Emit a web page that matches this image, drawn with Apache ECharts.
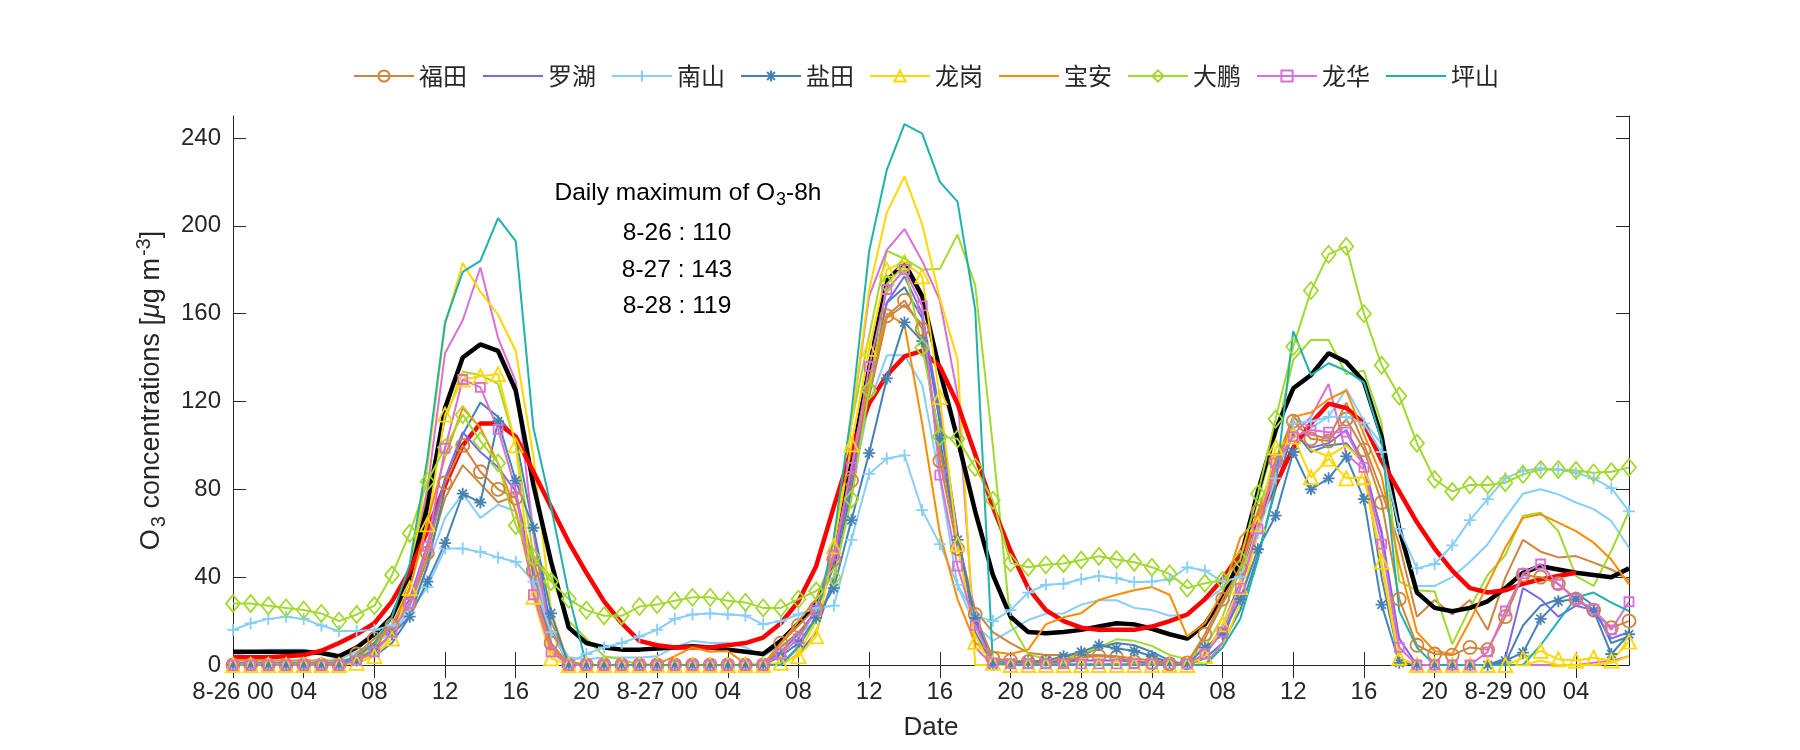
<!DOCTYPE html>
<html>
<head>
<meta charset="utf-8">
<script src="https://cdn.jsdelivr.net/npm/echarts@6/dist/echarts.min.js"></script>
<style>html,body{margin:0;padding:0;background:#fff;}#c{width:1800px;height:750px;}</style>
</head>
<body>
<div id="c"></div>
<script>
// Hour categories: 8-26 00 .. 8-29 07
const categories = [
'8-26 00','01','02','03','04','05','06','07','08','09','10','11','12','13','14','15','16','17','18','19','20','21','22','23',
'8-27 00','01','02','03','04','05','06','07','08','09','10','11','12','13','14','15','16','17','18','19','20','21','22','23',
'8-28 00','01','02','03','04','05','06','07','08','09','10','11','12','13','14','15','16','17','18','19','20','21','22','23',
'8-29 00','01','02','03','04','05','06','07'];

const legendNames = ['福田','罗湖','南山','盐田','龙岗','宝安','大鹏','龙华','坪山'];
const unmarkedNames = ['罗湖','宝安','坪山'];

// Marked (first) station of each district
const futian = [0,0,0,0,0,0,0,5,12,18, 28,51,83,100,88,80,76,43,10,0, 0,0,0,0,0,0,0,0,0,0, 0,10,18,26,48,84,125,159,166,153,
  93,53,23,3,2,1.5,1.5,2,3.5,4, 3.5,1.5,1,0.5,1,14,30,44,70,93, 111,103,102,112,98,74,30,9,5,4.5, 8,7,22,41,40,37,30,25,17,20];
const luohu = [0,0,0,0,0,0,0,3,10,18, 30,55,85,106,97,90,79,40,8,0, 0,0,0,0,0,0,0,0,0,0, 0,6,14,25,45,85,130,165,177,160,
  115,60,20,2,1,1,1,1.5,2,2, 2,1.5,1,0.5,0.5,5,18,38,65,90, 105,99,101,107,92,60,12,0,0,0, 0,0,3,35,30,22,27,25,12,15];
const nanshan = [16,19,21,22,21,18,15.5,15.5,16,18, 24,35.5,53,53,51.5,49,47,38,15,1, 5,8,10,13,16,21,23,23.5,23,22.5, 18.5,20,23,26,27,57,87,94,95.5,70.5,
  55,36.5,22.5,20,25,33,36.5,37,39,40.5, 39.5,37.7,38,39,44.5,43,38,40,60,85, 110,111,113,113,110,97,62,44,46,54.5, 66,75.5,85,88.5,89.5,89,87.5,85,80.5,70];
const yantian = [0,0,0,0,0,0,0,2,7,14, 22,38,55.5,78,74,111,84,62.5,23.5,0, 0,0,0,0,0,0,0,0,0,0, 0,4,10,21.5,35,66,96.5,130.5,156,147.5,
  103,57,21.5,0,1,1.5,2,4,6,9, 7.5,6.5,4,1,0.5,8,14,30,52.7,68, 97,80,85,95,75.5,27.5,1,0,0,0, 0,0,2,5.6,21,29,30,24.6,5,14];
const longgang = [0,0,0,0,0,0,0,1,4,12, 35,64,114,130,131.5,132.5,100,31,3,0, 0,0,0,0,0,0,0,0,0,0, 0,1,4,13,54,100.5,144,180,183.5,177,
  122,55,10.5,1,0,0,0,0,0,0, 0,0,0,0,0,4,18.5,35.5,64,99, 104,85.5,94,85,85.5,47,3.3,0,0,0, 0,0,0,3,6.4,2.6,2,3.3,2,10.6];
const baoan = [2,2,2,2,2,2,2,3,10,18, 35,65,95,117,108,92,70,35,8,0, 0,0,0,0,0.3,4,8,6,6.4,0.5, 0,10,20,30,50,90,130,160,155,110,
  60,30,10,6,5,7,18.5,21.7,23.6,29.6, 32,34,35.5,32,13,19,33,58,67,88, 113,115,121,125,105,86,46,15,6.4,5, 20,36.7,53.4,67,68.6,64.8,61,55.7,48,36.7];
const dapeng = [28,28,27,26,25,23.5,20,23,27,41, 60,83.5,99,114,102,92,63.5,49,38,30, 25,22.4,22.4,26.6,27.5,29.3,30.8,30.8,29.3,28.5, 26,26,30,33.7,40,75.5,125,173.5,182,144.5,
  104,103,90,75,46.5,44.5,45.6,46.2,47.8,49.5, 48,46.8,44.5,41.5,35,37.2,38.5,48,78,112, 145,170.5,187,190.6,160,136.5,122.5,101,84.5,79, 82,82,83,86.8,89,89,88.6,87.5,88,90];
const longhua = [0,0,0,0,0,0,0,2,6,15, 28,54,98.7,130,126.4,107.3,80,32,6,0, 0,0,0,0,0,0,0,0,0,0, 0,5,12,25,50,90,136,171,180,163.5,
  86.5,45,18,1,0.5,0.5,0.5,0.5,0.5,0.5, 0.5,0.5,0.5,0.5,0.5,5,15,35,62,92, 104,107,106,106,90,55,8,0,0,0, 0,6,24.6,41.6,46,36.7,30,25.3,16,28.8];
const pingshan = [1,1,1,1,1,1,1,4,10,22, 46,94,156,179,184,203.5,193,108,72,32, 0,0,0,0,0,0,0,0,0,0, 0,0,8.5,21.5,58,115,188.5,225.5,246.3,242,
  220,211,162,1,0,0,0,0,0,0, 0,0,0,0,0,0,8,21,48,82, 152,132,137.4,134,128.7,102,24.6,8,0,0, 0,0,0,0,9,20,30.7,33,28.4,24.6];

// Other stations (plain lines)
const longgang2 = [0,0,0,0,0,0,0,1,5,15, 40,90,155,183,170,159.5,143,95,25,0, 0,0,0,0,0,0,0,0,0,0, 0,0,5,20,55,110,171,206,222.5,200.7,
  167,139,0,0,0,0,0,0,0,0, 0,0,0,0,0,0,8,28,60,95, 108,98,95,100,92,45,2,0,0,0, 0,0,0,0,2,0,0,0,1,4];
const longhua2 = [0,0,0,0,0,0,0,2,5,15, 35,80,142,157,181,149,129,60,10,0, 0,0,0,0,0,0,0,0,0,0, 0,0,8,22,55,110,168,189,198.5,184,
  166,123,8,0,0,0,0,0,0,0, 0,0,0,0,0,0,10,35,60,88, 105,113,128,96,89,61,3,0,0,0, 0,0,0,0,0,0,0,1,2,4];
const dapeng2 = [0,0,0,0,0,0,0,2,8,22, 45,80,112,133.5,132,128,100,50,40,20, 12,4,2.6,0,0,0,0,0,0,0, 0,0,8,22,55,110,150,188.6,185,180,
  180.4,196,173,100,19,5,2.6,2.6,5,8, 11.7,11,8.7,4.6,2.6,8,22,45,75,104, 139,148,148,132.5,134,110,38,34,33.5,9.5, 26,41,50,68,69.3,61,40.5,36,52,70];
const yantian2 = [0,0,0,0,0,0,0,1,4,10, 22,45,80,105,119.5,113,103.5,62,16,0, 0,0,0,0,0,0,0,0,0,0, 0,0,5,15,40,80,130,165,172,158,
  110,60,15,0,0,0,0,0,4,8, 10,9,6,2,0,3,10,25,50,80, 107,97,100,101,91.5,40,2,0,0,0, 0,0,1,18,27,30,33,27,10,13];
const futian2 = [0,0,0,0,0,0,0,4,10,17, 27,48,76,91,82.5,74,77,48,19.6,1.6, 0,0,0,0,0,0,0,0,0,0, 0,8,15,24,45,82,122,158,164,155,
  98,57,25,15,10,5.6,4.6,4.6,4.6,4.5, 4,3,2,1,1,12,28,42,68,92, 113,105,103,119.5,100.6,79,55,22,29.6,23, 29.6,16,39.8,57,51.6,49,49.6,46.6,43.5,38.5];
const nanshan2 = [4,6,7,7,7,5,2.5,6,10,15, 24,45,67,78,67,73,70,45,16,3.5, 2.6,3.4,3.4,3.4,4,8,11,10,10,8, 4,9,14,20,38,80,119,141,141,127.5,
  85,36,18,11,15.6,20.5,23.3,23.5,27.5,29.5, 29.5,26,25,22.4,23,29,35,45,68,92, 113,108,113,125.7,111,100.6,60,36,36,40, 47,55,67,78,80,77.7,74,71,65.6,53.4];

// City mean (black) and 8-h running mean (red)
const cityMean = [6,6,6,6,6,5.5,4,8,14,22, 40,72,117,140,146,143,125,82,47,17, 10,8,7,7,7.5,8,8.5,8,7,6, 5,11,19,28,47,93,135,175,183,168,
  134,103,70,41,22,15,14.5,15,16,17.5, 19,18.5,16.5,14,12,18.5,31,48,79,107, 126,132,142,138,129,104,62,33,26,24.5, 26,29,35,42,45,43.5,42,41,40,44];
const mean8h = [3.5,3.5,3.5,4,4.5,6.5,10,14,19,29, 43,61,82,100,110,110,104,88,72,56, 42,29,19,11,9,8,8,8,9,10, 12.5,19,29,45,72,98,119,132,140.5,143,
  136,119,96,72,52,35,25,20,17,16, 16,16,17.5,20,23,30,39,51,66,82, 99,110,119,117,110,93,79,65,53,43, 35,33,34,37,39,40.5,42,null,null,null];

const COL = {
  futian:'#CD853F', luohu:'#7B68EE', nanshan:'#87CEFA', yantian:'#4682B4', longgang:'#FFD700',
  baoan:'#FF8C00', dapeng:'#A2D92E', longhua:'#DA70D6', pingshan:'#20B2AA'
};
const FONT = "'Liberation Sans', 'Noto Sans CJK SC', sans-serif";
const TXT = '#262626';

function plain(name, data, color, width) {
  return {type:'line', name, data, symbol:'none', showSymbol:false,
    lineStyle:{color, width}, itemStyle:{color}, emphasis:{disabled:true}, silent:true, animation:false};
}
function marked(name, data, color, symbol, size) {
  return {type:'line', name, data, symbol, symbolSize:size, showSymbol:true, showAllSymbol:true,
    lineStyle:{color, width:2}, itemStyle:{color:'rgba(255,255,255,0)', borderColor:color, borderWidth:1.8},
    emphasis:{disabled:true}, silent:true, animation:false};
}
const PLUS = 'path://M5,0L5,10M0,5L10,5';
const STAR = 'path://M5,0L5,10M0,5L10,5M1.5,1.5L8.5,8.5M1.5,8.5L8.5,1.5';

const series = [
  plain('南山站2', nanshan2, COL.nanshan, 2),
  plain('福田站2', futian2, COL.futian, 2),
  plain('盐田站2', yantian2, COL.yantian, 2),
  plain('大鹏站2', dapeng2, COL.dapeng, 2),
  plain('龙华站2', longhua2, COL.longhua, 2),
  plain('龙岗站2', longgang2, COL.longgang, 2),
  plain('均值', cityMean, '#000000', 4.5),
  plain('O3-8h', mean8h, '#FF0000', 4.5),
  marked('福田', futian, COL.futian, 'circle', 13),
  plain('罗湖', luohu, COL.luohu, 2),
  marked('南山', nanshan, COL.nanshan, PLUS, 12),
  marked('盐田', yantian, COL.yantian, STAR, 12),
  marked('龙岗', longgang, COL.longgang, 'triangle', 14),
  plain('宝安', baoan, COL.baoan, 2),
  marked('大鹏', dapeng, COL.dapeng, 'diamond', [14,17]),
  marked('龙华', longhua, COL.longhua, 'rect', 9),
  plain('坪山', pingshan, COL.pingshan, 2)
];

const legendData = legendNames.map(n => unmarkedNames.indexOf(n) >= 0
  ? {name:n, itemStyle:{opacity:0, borderWidth:0}}
  : {name:n});

const axisLineStyle = {color: TXT, width: 1};
const chart = echarts.init(document.getElementById('c'), null, {renderer:'canvas'});
chart.setOption({
  animation:false,
  backgroundColor:'#fff',
  textStyle:{fontFamily:FONT, color:TXT},
  grid:{left:233, right:171, top:116, bottom:85},
  legend:{
    data: legendData, left:348, top:59, itemWidth:60, itemHeight:14, itemGap:15,
    textStyle:{fontSize:24, fontFamily:"'Noto Sans CJK SC', sans-serif", color:TXT},
    selectedMode:false
  },
  xAxis:[{
    type:'category', data:categories, boundaryGap:false, position:'bottom',
    axisLine:{lineStyle:axisLineStyle},
    axisTick:{inside:true, length:13, interval:3, lineStyle:axisLineStyle},
    axisLabel:{interval:3, margin:15, fontSize:24, color:TXT, fontFamily:FONT},
    splitLine:{show:false},
    name:'Date', nameLocation:'middle', nameGap:50,
    nameTextStyle:{fontSize:26, color:TXT, fontFamily:FONT}
  },{
    type:'category', data:categories, boundaryGap:false, position:'top',
    axisLine:{lineStyle:axisLineStyle},
    axisTick:{inside:true, length:13, interval:3, lineStyle:axisLineStyle},
    axisLabel:{show:false}, splitLine:{show:false}
  }],
  yAxis:[{
    type:'value', min:0, max:250, interval:40, position:'left',
    axisLine:{show:true, lineStyle:axisLineStyle},
    axisTick:{show:true, inside:true, length:13, lineStyle:axisLineStyle},
    axisLabel:{margin:12, fontSize:24, color:TXT, fontFamily:FONT, showMaxLabel:false},
    splitLine:{show:false},
    name:'O{sub|3} concentrations [{it|μ}g m{sup|-3}]', nameLocation:'middle', nameGap:64, nameRotate:90,
    nameTextStyle:{fontSize:27, color:TXT, fontFamily:FONT, rich:{
      sub:{fontSize:20, color:TXT, fontFamily:FONT, padding:[15,0,0,2]},
      sup:{fontSize:20, color:TXT, fontFamily:FONT, padding:[0,0,15,2]},
      it:{fontSize:27, color:TXT, fontFamily:FONT, fontStyle:'italic'}
    }}
  },{
    type:'value', min:0, max:250, interval:40, position:'right',
    axisLine:{show:true, lineStyle:axisLineStyle},
    axisTick:{show:true, inside:true, length:13, lineStyle:axisLineStyle},
    axisLabel:{show:false}, splitLine:{show:false}
  }],
  graphic:[
    {type:'text', x:688, y:193, silent:true, style:{
      text:'{n|Daily maximum of O}{s|3}{n|-8h}', align:'center', verticalAlign:'middle',
      rich:{ n:{fontSize:24.5, fontFamily:FONT, fill:'#000', color:'#000'},
             s:{fontSize:18, fontFamily:FONT, fill:'#000', color:'#000', padding:[14,0,0,1]} }
    }},
    {type:'text', x:677, y:233, silent:true, style:{text:'8-26 : 110', align:'center', verticalAlign:'middle', fontSize:24.5, fontFamily:FONT, fill:'#000'}},
    {type:'text', x:677, y:270, silent:true, style:{text:'8-27 : 143', align:'center', verticalAlign:'middle', fontSize:24.5, fontFamily:FONT, fill:'#000'}},
    {type:'text', x:677, y:306, silent:true, style:{text:'8-28 : 119', align:'center', verticalAlign:'middle', fontSize:24.5, fontFamily:FONT, fill:'#000'}}
  ],
  series: series
});
</script>
</body>
</html>
